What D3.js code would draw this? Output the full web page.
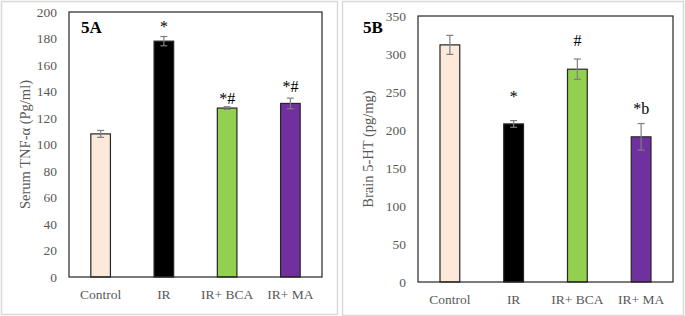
<!DOCTYPE html>
<html lang="en">
<head>
  <meta charset="UTF-8">
  <title>TNF-alpha and 5-HT bar charts</title>
  <style>
    body { margin: 0; background: #fff; }
    svg { display: block; }
    .tick text { font-family: "Liberation Serif", serif; fill: #595959; }
  </style>
  <script src="https://d3js.org/d3.v7.min.js"></script>
</head>
<body>

<svg id="chart" width="685" height="316"></svg>

<script>
  // Shared categories and colours
  const groups = ["Control", "IR", "IR+ BCA", "IR+ MA"];
  const barColors = ["#fde9d9", "#000000", "#92d050", "#7030a0"];

  // Panel 5A: serum TNF-alpha
  const tnfMean = [108, 178, 127.5, 131];
  const tnfErr = [2.6, 3.5, 1.0, 4.0];
  const tnfMarks = ["", "*", "*#", "*#"];
  const tnfMarkY = [null, 189, 135, 144];
  const tnfTicks = [0, 20, 40, 60, 80, 100, 120, 140, 160, 180, 200];

  // Panel 5B: brain 5-HT
  const htMean = [312, 208, 280, 191];
  const htErr = [12.5, 4.4, 13.4, 17.5];
  const htMarks = ["", "*", "#", "*b"];
  const htMarkY = [null, 244, 318, 228];
  const htTicks = [0, 50, 100, 150, 200, 250, 300, 350];

  const svg = d3.select("#chart");

  function panel(cfg) {
    const g = svg.append("g");

    // light outer frame of the panel
    g.append("rect")
      .attr("x", cfg.box[0] + 0.5).attr("y", cfg.box[1] + 0.5)
      .attr("width", cfg.box[2]).attr("height", cfg.box[3])
      .attr("fill", "none").attr("stroke", "#d9d9d9").attr("stroke-width", 1.5);

    const x = d3.scaleBand()
      .domain(groups)
      .range([cfg.left, cfg.right])
      .paddingInner(0.69).paddingOuter(0.345);

    const y = d3.scaleLinear()
      .domain([0, cfg.max])
      .range([cfg.bottom, cfg.top]);

    // y axis labels (no tick marks)
    const ya = g.append("g")
      .attr("transform", `translate(${cfg.left},0)`)
      .call(d3.axisLeft(y).tickValues(cfg.ticks).tickSize(0).tickPadding(12));
    ya.select(".domain").remove();
    ya.selectAll("text").attr("font-size", 13.5);

    // x axis labels
    const xa = g.append("g")
      .attr("transform", `translate(0,${cfg.bottom})`)
      .call(d3.axisBottom(x).tickSize(0).tickPadding(12));
    xa.select(".domain").remove();
    xa.selectAll("text").attr("font-size", 13.5);

    // bars
    g.selectAll(".bar")
      .data(cfg.mean)
      .join("rect")
      .attr("x", (d, i) => x(groups[i]))
      .attr("y", d => y(d))
      .attr("width", x.bandwidth())
      .attr("height", d => y(0) - y(d))
      .attr("fill", (d, i) => barColors[i])
      .attr("stroke", "#262626")
      .attr("stroke-width", 1.2);

    // error bars
    const eb = g.selectAll(".err")
      .data(cfg.mean)
      .join("g")
      .attr("stroke", "#7f7f7f")
      .attr("stroke-width", 1.2);
    const cx = i => x(groups[i]) + x.bandwidth() / 2;
    eb.append("line")
      .attr("x1", (d, i) => cx(i)).attr("x2", (d, i) => cx(i))
      .attr("y1", (d, i) => y(d + cfg.err[i])).attr("y2", (d, i) => y(d - cfg.err[i]));
    [1, -1].forEach(s => {
      eb.append("line")
        .attr("x1", (d, i) => cx(i) - 3.5).attr("x2", (d, i) => cx(i) + 3.5)
        .attr("y1", (d, i) => y(d + s * cfg.err[i])).attr("y2", (d, i) => y(d + s * cfg.err[i]));
    });

    // significance marks
    g.selectAll(".sig")
      .data(cfg.marks)
      .join("text")
      .attr("x", (d, i) => cx(i))
      .attr("y", (d, i) => cfg.markY[i] == null ? 0 : y(cfg.markY[i]))
      .attr("dy", "0.35em")
      .attr("text-anchor", "middle")
      .attr("font-family", "Liberation Serif, serif")
      .attr("font-size", 16)
      .attr("fill", "#000")
      .text(d => d);

    // plot frame
    g.append("rect")
      .attr("x", cfg.left).attr("y", cfg.top)
      .attr("width", cfg.right - cfg.left).attr("height", cfg.bottom - cfg.top)
      .attr("fill", "none").attr("stroke", "#262626").attr("stroke-width", 1.2);

    // panel tag
    g.append("text")
      .attr("x", cfg.tag[0]).attr("y", cfg.tag[1])
      .attr("font-family", "Liberation Serif, serif")
      .attr("font-weight", "bold")
      .attr("font-size", 17)
      .text(cfg.tagText);

    // y axis title
    g.append("text")
      .attr("transform", `translate(${cfg.titleX},${(cfg.top + cfg.bottom) / 2}) rotate(-90)`)
      .attr("text-anchor", "middle")
      .attr("dy", "0.35em")
      .attr("font-family", "Liberation Serif, serif")
      .attr("font-size", 14.5)
      .attr("fill", "#595959")
      .text(cfg.title);
  }

  panel({
    box: [1, 1, 336, 313],
    left: 69, right: 322, top: 12, bottom: 277,
    max: 200, ticks: tnfTicks,
    mean: tnfMean, err: tnfErr, marks: tnfMarks, markY: tnfMarkY,
    tag: [81, 33], tagText: "5A",
    titleX: 25, title: "Serum TNF-α (Pg/ml)"
  });

  panel({
    box: [342, 1, 341, 314],
    left: 418, right: 673, top: 16, bottom: 282,
    max: 350, ticks: htTicks,
    mean: htMean, err: htErr, marks: htMarks, markY: htMarkY,
    tag: [363, 33], tagText: "5B",
    titleX: 368, title: "Brain 5-HT (pg/mg)"
  });
</script>

</body>
</html>
